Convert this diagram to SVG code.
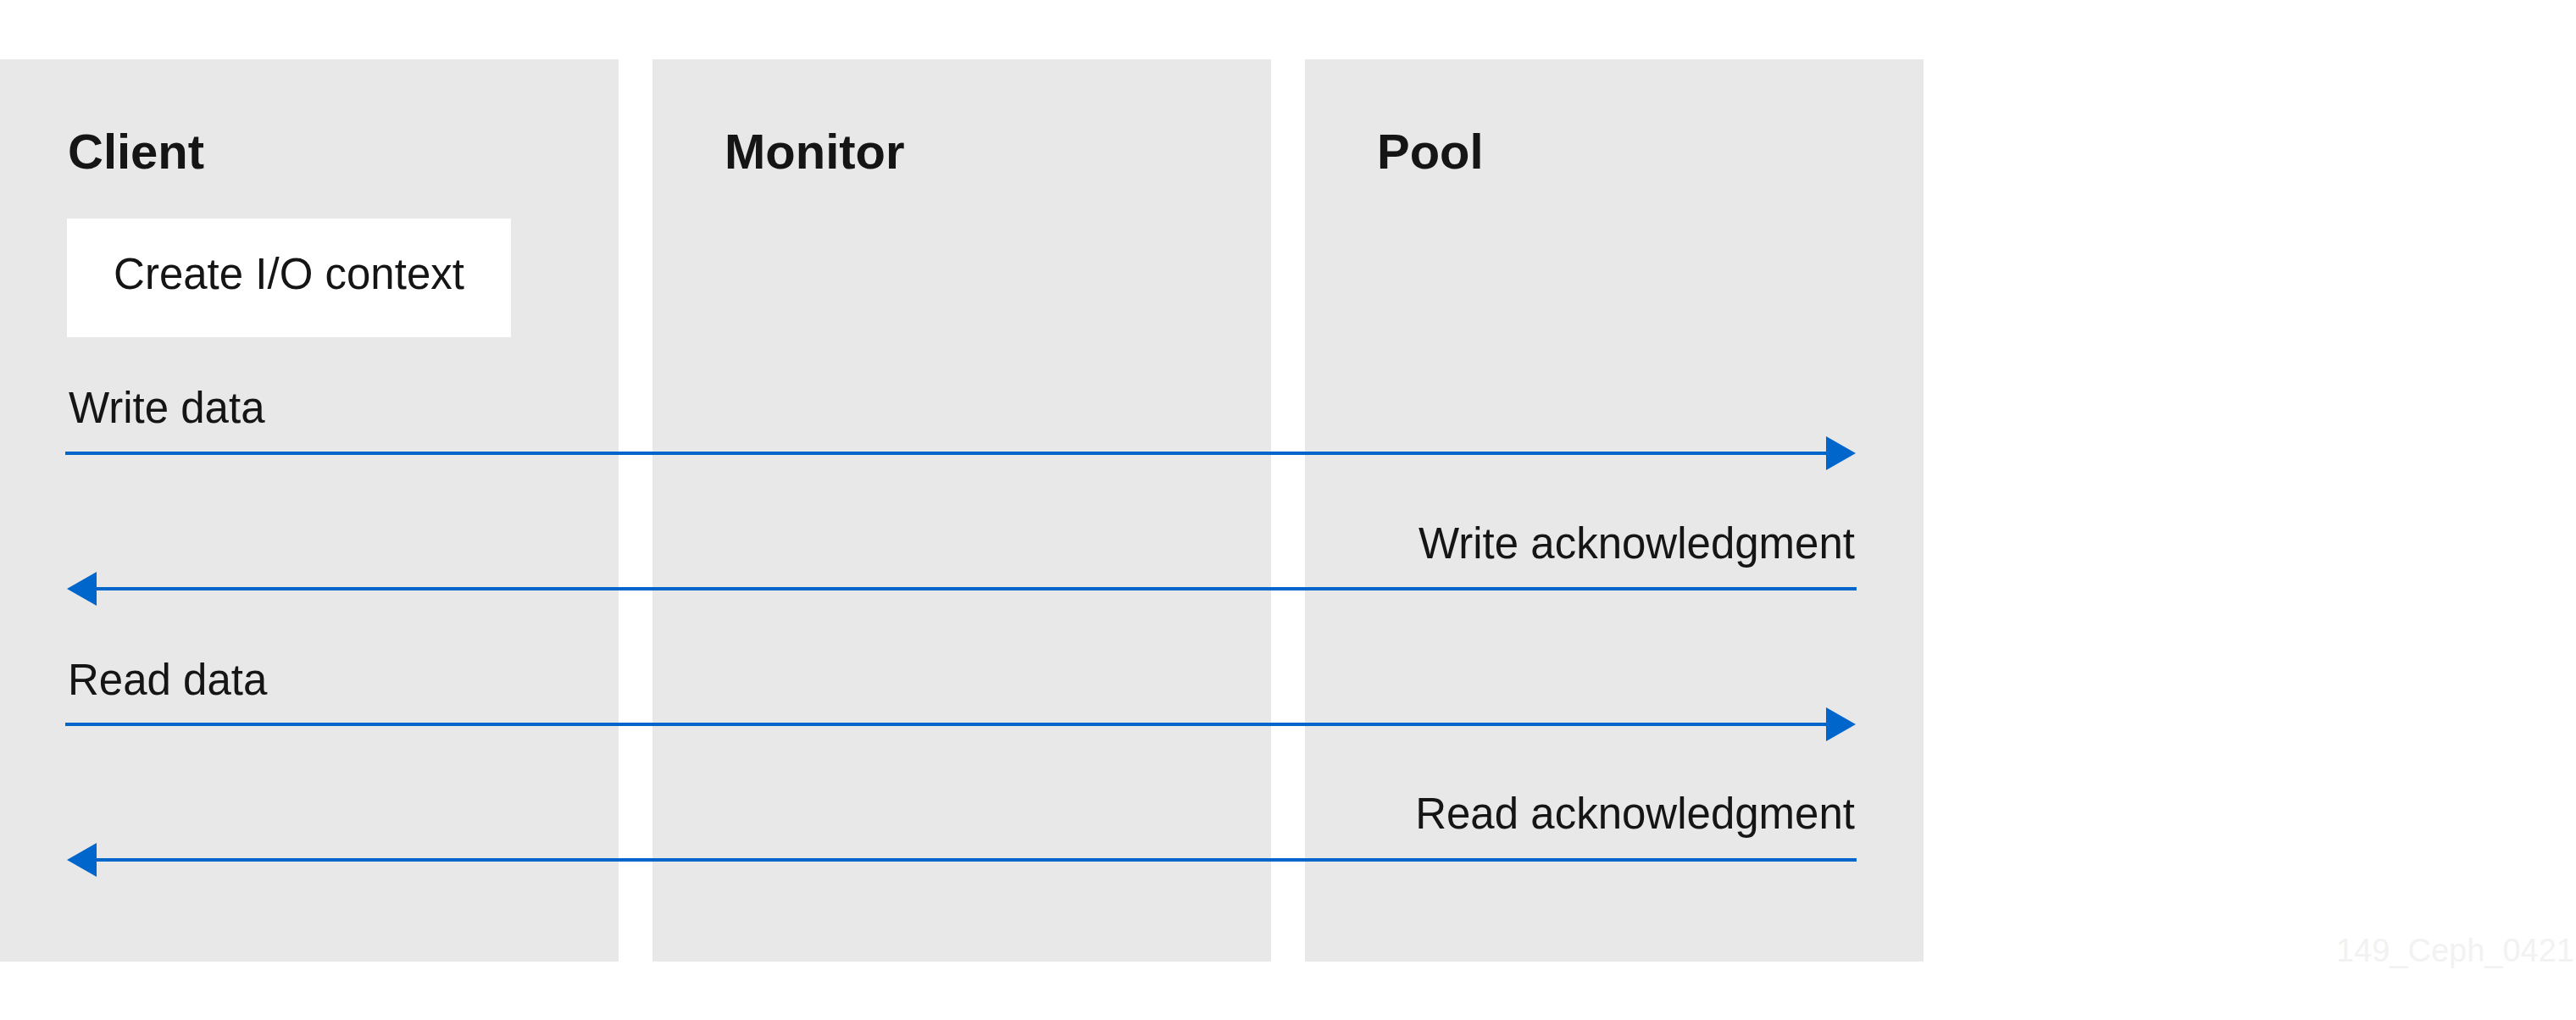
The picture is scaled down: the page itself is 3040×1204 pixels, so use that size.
<svg xmlns="http://www.w3.org/2000/svg" width="3040" height="1204" viewBox="0 0 3040 1204">
  <style>
    .lane { fill: #e8e8e8; }
    .head { font-family: "Liberation Sans", Arial, sans-serif; font-weight: bold; font-size: 58px; fill: #151515; }
    .lbl { font-family: "Liberation Sans", Arial, sans-serif; font-size: 51px; fill: #151515; }
    .conn { stroke: #0066cc; stroke-width: 4; fill: none; }
    .wm { font-family: "Liberation Sans", Arial, sans-serif; font-size: 38px; fill: #f2f2f2; }
  </style>
  <defs>
    <marker id="arrow" markerUnits="userSpaceOnUse" markerWidth="35" markerHeight="40" viewBox="0 0 35 40" refX="0" refY="20" orient="auto">
      <path d="M0,0 L35,20 L0,40 Z" fill="#0066cc"/>
    </marker>
  </defs>
  <rect width="3040" height="1204" fill="#ffffff"/>
  <g id="lane-client">
    <rect class="lane" x="0" y="70" width="730" height="1065"/>
    <text class="head" x="80" y="199">Client</text>
  </g>
  <g id="lane-monitor">
    <rect class="lane" x="770" y="70" width="730" height="1065"/>
    <text class="head" x="855" y="199">Monitor</text>
  </g>
  <g id="lane-pool">
    <rect class="lane" x="1540" y="70" width="730" height="1065"/>
    <text class="head" x="1625" y="199">Pool</text>
  </g>
  <g id="node-create-io">
    <rect x="79" y="258" width="524" height="140" fill="#ffffff"/>
    <text class="lbl" x="341" y="341" text-anchor="middle">Create I/O context</text>
  </g>
  <g id="connectors">
    <line class="conn" x1="77" y1="535" x2="2155" y2="535" marker-end="url(#arrow)"/>
    <line class="conn" x1="2191" y1="695" x2="114" y2="695" marker-end="url(#arrow)"/>
    <line class="conn" x1="77" y1="855" x2="2155" y2="855" marker-end="url(#arrow)"/>
    <line class="conn" x1="2191" y1="1015" x2="114" y2="1015" marker-end="url(#arrow)"/>
  </g>
  <g id="labels">
    <text class="lbl" x="81" y="499">Write data</text>
    <text class="lbl" x="2189" y="659" text-anchor="end">Write acknowledgment</text>
    <text class="lbl" x="80" y="820">Read data</text>
    <text class="lbl" x="2189" y="978" text-anchor="end">Read acknowledgment</text>
  </g>
  <text class="wm" x="3038" y="1135" text-anchor="end">149_Ceph_0421</text>
</svg>
